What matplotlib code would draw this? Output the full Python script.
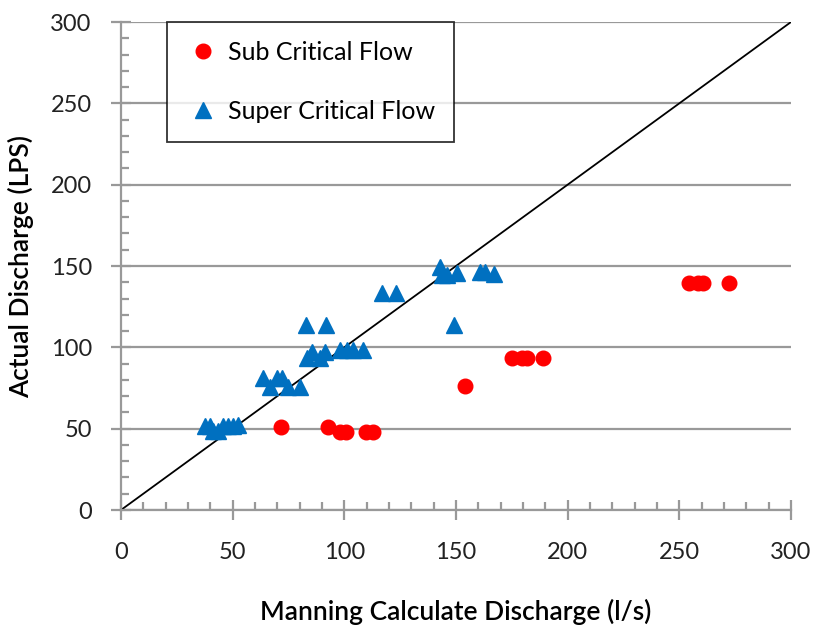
import matplotlib.pyplot as plt
from matplotlib.ticker import MultipleLocator

plt.rcParams['font.family'] = ['Lato', 'DejaVu Sans']

# sub critical flow points
sub_x = [71.6, 92.5, 98.0, 100.8, 109.7, 112.8, 154.0, 175.0, 179.6, 181.8, 189.0, 254.4, 258.5, 260.5, 272.3]
sub_y = [51.0, 51.0, 48.0, 48.0, 48.0, 48.0, 76.2, 93.4, 93.4, 93.4, 93.4, 139.5, 139.5, 139.5, 139.5]

# super critical flow points
sup_x = [37.6, 39.9, 41.2, 43.4, 45.7, 47.9, 50.2, 52.4,
         63.7, 66.7, 69.7, 72.0, 74.9, 80.2,
         82.7, 91.8, 83.2, 85.6, 89.1, 91.4, 98.0, 101.0, 104.0, 108.5,
         116.7, 123.1, 142.9, 143.6, 145.8, 150.6, 149.1, 160.8, 163.0, 167.0]
sup_y = [51.6, 51.6, 48.5, 48.5, 51.6, 51.6, 51.6, 52.5,
         81.0, 75.8, 81.0, 81.0, 75.8, 75.8,
         113.7, 113.7, 93.2, 97.3, 93.2, 97.3, 98.3, 98.3, 98.3, 98.3,
         133.2, 133.2, 149.6, 144.4, 144.4, 145.9, 113.7, 146.5, 146.5, 145.0]

fig = plt.figure(figsize=(8.14, 6.33), dpi=100)
ax = fig.add_axes([0.1486, 0.1943, 0.8231, 0.7709])

gray = '#999999'
ax.plot([0, 300], [0, 300], color='black', lw=1.3, zorder=2)
ax.plot(sub_x, sub_y, 'o', color='#ff0000', ms=10.5, ls='none', label='Sub Critical Flow', zorder=3)
ax.plot(sup_x, sup_y, '^', color='#0070c0', ms=11, ls='none', label='Super Critical Flow', zorder=3)

ax.set_xlim(0, 300)
ax.set_ylim(0, 300)
ax.xaxis.set_major_locator(MultipleLocator(50))
ax.xaxis.set_minor_locator(MultipleLocator(10))
ax.yaxis.set_major_locator(MultipleLocator(50))
ax.yaxis.set_minor_locator(MultipleLocator(10))
ax.grid(axis='y', which='major', color=gray, lw=1.6, zorder=0)

for s in ['top', 'right']:
    ax.spines[s].set_visible(False)
for s in ['left', 'bottom']:
    ax.spines[s].set_color(gray)
    ax.spines[s].set_linewidth(1.6)

ax.tick_params(which='major', direction='inout', length=14, width=1.6, color=gray,
               labelsize=17, labelcolor='#222222')
ax.tick_params(which='minor', direction='in', length=6, width=1.6, color=gray)
ax.tick_params(axis='x', which='major', pad=16)
ax.tick_params(axis='y', which='major', pad=14)

ax.set_xlabel('Manning Calculate Discharge (l/s)', fontsize=19, fontweight='semibold', labelpad=26)
ax.set_ylabel('Actual Discharge (LPS)', fontsize=19, fontweight='semibold', labelpad=12)

leg = ax.legend(loc='upper left', bbox_to_anchor=(0.068, 1.0), fontsize=18, frameon=True,
                fancybox=False, edgecolor='black', borderpad=0.75, labelspacing=1.45,
                handletextpad=0.3, handlelength=1.4, borderaxespad=0)
leg.get_frame().set_linewidth(1.3)

fig.savefig('out.png', dpi=100)
